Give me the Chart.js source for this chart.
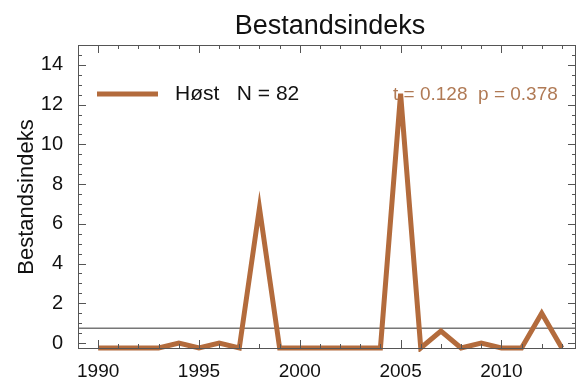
<!DOCTYPE html>
<html>
<head>
<meta charset="utf-8">
<title>Bestandsindeks</title>
<script src="https://cdn.jsdelivr.net/npm/chart.js@4.4.1/dist/chart.umd.min.js"></script>
<style>
  html, body { margin: 0; padding: 0; background: #fff; }
  #wrap { width: 578px; height: 381px; }
</style>
</head>
<body>
<div id="wrap"><canvas id="chart" width="578" height="381"></canvas></div>
<script>
// index per year, autumn survey
const years = [1990, 1991, 1992, 1993, 1994, 1995, 1996, 1997, 1998, 1999, 2000, 2001,
  2002, 2003, 2004, 2005, 2006, 2007, 2008, 2009, 2010, 2011, 2012, 2013];
const host = [-0.25, -0.25, -0.25, -0.25, 0.0, -0.25, 0.0, -0.25, 6.8, -0.25, -0.25, -0.25,
  -0.25, -0.25, -0.25, 12.55, -0.25, 0.6, -0.25, 0.0, -0.25, -0.25, 1.5, -0.25];
const meanLevel = 0.74;

const xTicks = [1990, 1995, 2000, 2005, 2010];
const yTicks = [0, 2, 4, 6, 8, 10, 12, 14];

const legendText = "Høst   N = 82";
const statsText = "t = 0.128  p = 0.378";

const X_MIN = 1989, X_MAX = 2013.7;
const Y_MIN = -0.25, Y_MAX = 15;

const brown = "#b36b3c";
const axisColor = "#555";
const font = "'Liberation Sans', Arial, Helvetica, sans-serif";

// box, inward tick marks, title, legend and stats label
const decorations = {
  id: "decorations",
  afterDatasetsDraw(chart) {
    const { ctx, chartArea: a, scales: { x, y } } = chart;
    ctx.save();
    ctx.strokeStyle = axisColor;
    ctx.lineWidth = 1;
    ctx.strokeRect(a.left + 0.5, a.top + 0.5, a.right - a.left - 1, a.bottom - a.top);

    ctx.beginPath();
    for (let yr = Math.ceil(X_MIN); yr <= X_MAX; yr++) {
      const px = Math.round(x.getPixelForValue(yr)) + 0.5;
      const len = yr % 5 === 0 ? 8 : 4;
      ctx.moveTo(px, a.bottom); ctx.lineTo(px, a.bottom - len);
      ctx.moveTo(px, a.top); ctx.lineTo(px, a.top + len);
    }
    for (let v = 0; v <= Y_MAX; v += 0.5) {
      const py = Math.round(y.getPixelForValue(v)) + 0.5;
      const len = v % 2 === 0 ? 8 : 4;
      ctx.moveTo(a.left, py); ctx.lineTo(a.left + len, py);
      ctx.moveTo(a.right, py); ctx.lineTo(a.right - len, py);
    }
    ctx.stroke();

    // title
    ctx.fillStyle = "#111";
    ctx.textAlign = "center";
    ctx.textBaseline = "middle";
    ctx.font = "27px " + font;
    ctx.fillText("Bestandsindeks", 330, 27);

    // y axis title
    ctx.save();
    ctx.translate(27, 197);
    ctx.rotate(-Math.PI / 2);
    ctx.font = "22px " + font;
    ctx.fillText("Bestandsindeks", 0, 0);
    ctx.restore();

    // legend entry
    ctx.strokeStyle = brown;
    ctx.lineWidth = 5;
    ctx.beginPath();
    ctx.moveTo(97, 94); ctx.lineTo(158, 94);
    ctx.stroke();
    ctx.textAlign = "left";
    ctx.font = "21px " + font;
    ctx.fillText(legendText, 175, 94);

    // trend statistics
    ctx.fillStyle = "#b07a55";
    ctx.font = "19px " + font;
    ctx.fillText(statsText, 393, 95);
    ctx.restore();
  }
};

new Chart(document.getElementById("chart"), {
  type: "line",
  data: {
    datasets: [
      {
        label: "mean",
        data: [{ x: X_MIN, y: meanLevel }, { x: X_MAX, y: meanLevel }],
        borderColor: "#777",
        borderWidth: 1.5,
        pointRadius: 0,
        order: 2
      },
      {
        label: "Høst",
        data: years.map((yr, i) => ({ x: yr, y: host[i] })),
        borderColor: brown,
        borderWidth: 5,
        pointRadius: 0,
        tension: 0,
        clip: 4,
        order: 1
      }
    ]
  },
  plugins: [decorations],
  options: {
    responsive: false,
    animation: false,
    layout: { padding: { top: 45, right: 2, left: 0, bottom: 0 } },
    plugins: { legend: { display: false }, title: { display: false }, tooltip: { enabled: false } },
    scales: {
      x: {
        type: "linear",
        min: X_MIN,
        max: X_MAX,
        grid: { display: false },
        border: { display: false },
        afterBuildTicks: (s) => { s.ticks = xTicks.map((v) => ({ value: v })); },
        afterFit: (s) => { s.height = 33; },
        ticks: {
          color: "#111",
          font: { family: font, size: 19 },
          padding: 4,
          maxRotation: 0,
          autoSkip: false,
          callback: (v) => String(v)
        }
      },
      y: {
        type: "linear",
        min: Y_MIN,
        max: Y_MAX,
        grid: { display: false },
        border: { display: false },
        afterBuildTicks: (s) => { s.ticks = yTicks.map((v) => ({ value: v })); },
        afterFit: (s) => { s.width = 78; },
        ticks: {
          color: "#111",
          font: { family: font, size: 20 },
          padding: 7,
          autoSkip: false
        }
      }
    }
  }
});
</script>
</body>
</html>
